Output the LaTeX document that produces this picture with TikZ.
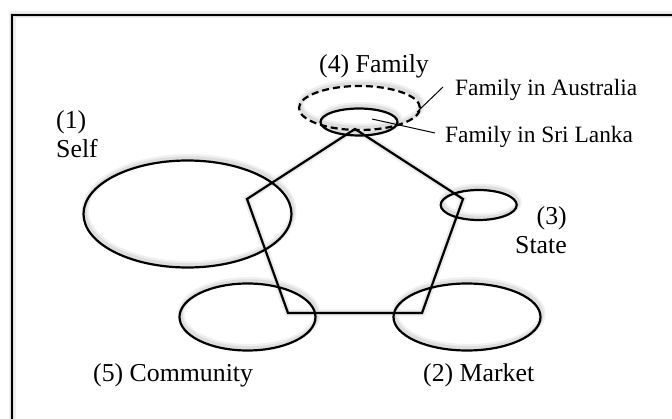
\documentclass[tikz,border=0pt]{standalone}
\usepackage{fontspec}
\setmainfont{Liberation Serif}
\usetikzlibrary{shapes.geometric}
\pgfdeclarelayer{shadowlayer}
\pgfsetlayers{shadowlayer,main}
\tikzset{
  shadeA/.style={draw=black!6,line width=7pt,shift={(1.5pt,3pt)}},
  shadeB/.style={draw=black!13,line width=3.5pt,shift={(1.5pt,2.5pt)}},
  ring/.style={ellipse,draw,line width=2.2pt,inner sep=0pt},
  biglabel/.style={font=\fontsize{25.8}{29}\selectfont,inner sep=0pt},
  smalllabel/.style={font=\fontsize{23.4}{27}\selectfont,inner sep=0pt,anchor=base west},
  leader/.style={line width=1pt}
}
\begin{document}
\begin{tikzpicture}[x=1pt,y=-1pt]
\useasboundingbox (0,0) rectangle (672,419);
% coordinates
\coordinate (fbl) at (12,430);
\coordinate (ftl) at (12,15);
\coordinate (ftr) at (690,15);
\coordinate (p1) at (355,129);
\coordinate (p2) at (463,199);
\coordinate (p3) at (422,313);
\coordinate (p4) at (288,313);
\coordinate (p5) at (247,199);
% soft shadows
\begin{pgfonlayer}{shadowlayer}
  \foreach \s in {shadeA,shadeB}{
    \draw[\s] (fbl) -- (ftl) -- (ftr);
    \draw[\s,line join=miter] (p1) -- (p2) -- (p3) -- (p4) -- (p5) -- cycle;
    \foreach \cx/\cy/\rx/\ry in {187.5/214/104/53.5, 478.7/205/38/15, 247.5/317/68/33.5,
                                 467/317/73.5/33.5, 359/122/38.5/13.5, 359.5/108/60.5/22}{
      \draw[\s] (\cx,\cy) ellipse [x radius=\rx, y radius=\ry];
    }
  }
\end{pgfonlayer}
% frame (cropped at right and bottom)
\draw[line width=2.2pt] (fbl) -- (ftl) -- (ftr);
% pentagon
\draw[line width=2.2pt,line join=miter] (p1) -- (p2) -- (p3) -- (p4) -- (p5) -- cycle;
% ellipses
\node[ring,minimum width=208pt,minimum height=107pt] (self) at (187.5,214) {};
\node[ring,minimum width=76pt,minimum height=30pt] (state) at (478.7,205) {};
\node[ring,minimum width=136pt,minimum height=67pt] (comm) at (247.5,317) {};
\node[ring,minimum width=147pt,minimum height=67pt] (market) at (467,317) {};
\node[ring,minimum width=77pt,minimum height=27pt] (famsl) at (359,122) {};
\node[ring,dash pattern=on 7pt off 4pt,minimum width=121pt,minimum height=44pt] (famau) at (359.5,108) {};
% labels
\node[biglabel,anchor=base west] (lfam) at (319,73) {(4) Family};
\node[smalllabel] (lau) at (455,96) {Family in Australia};
\node[smalllabel] (lsl) at (445,143) {Family in Sri Lanka};
\node[biglabel,anchor=base west] (lself1) at (56,129) {(1)};
\node[biglabel,anchor=base west] (lself2) at (56,158) {Self};
\node[biglabel,anchor=base east] (lstate1) at (567,225) {(3)};
\node[biglabel,anchor=base east] (lstate2) at (567,254) {State};
\node[biglabel,anchor=base west] (lcomm) at (93,382) {(5) Community};
\node[biglabel,anchor=base west] (lmarket) at (423,382) {(2) Market};
% leader lines
\coordinate (au1) at (417,112);
\coordinate (au2) at (443,87);
\coordinate (sl1) at (372,119);
\coordinate (sl2) at (435,133);
\draw[leader] (au1) -- (au2);
\draw[leader] (sl1) -- (sl2);
\end{tikzpicture}
\end{document}
